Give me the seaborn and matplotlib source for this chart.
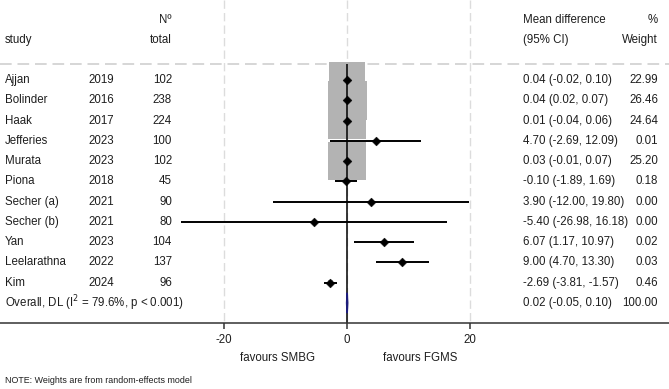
import numpy as np
import pandas as pd
import matplotlib
matplotlib.use("Agg")
import matplotlib.pyplot as plt
import seaborn as sns

# study data
studies = ["Ajjan", "Bolinder", "Haak", "Jefferies", "Murata", "Piona",
           "Secher (a)", "Secher (b)", "Yan", "Leelarathna", "Kim"]
years = [2019, 2016, 2017, 2023, 2023, 2018, 2021, 2021, 2023, 2022, 2024]
totals = [102, 238, 224, 100, 102, 45, 90, 80, 104, 137, 96]
md = [0.04, 0.04, 0.01, 4.70, 0.03, -0.10, 3.90, -5.40, 6.07, 9.00, -2.69]
ci_lo = [-0.02, 0.02, -0.04, -2.69, -0.01, -1.89, -12.00, -26.98, 1.17, 4.70, -3.81]
ci_hi = [0.10, 0.07, 0.06, 12.09, 0.07, 1.69, 19.80, 16.18, 10.97, 13.30, -1.57]
weights = [22.99, 26.46, 24.64, 0.01, 25.20, 0.18, 0.00, 0.00, 0.02, 0.03, 0.46]

overall_label = "Overall, DL (I$^2$ = 79.6%, p < 0.001)"
overall_md, overall_lo, overall_hi, overall_w = 0.02, -0.05, 0.10, 100.00
xticks = [-20, 0, 20]

df = pd.DataFrame({"study": studies, "year": years, "total": totals,
                   "md": md, "lo": ci_lo, "hi": ci_hi, "weight": weights})
df["row"] = np.arange(len(df))
overall_row = len(df)

sns.set_style("white")
plt.rcParams["font.family"] = ["Liberation Sans", "DejaVu Sans"]
txt = "#1e1e1e"
fs = 8.3

W, H = 669, 389
fig = plt.figure(figsize=(W / 100, H / 100), dpi=100)
ax = fig.add_axes([0, 0, 1, 1])
ax.set_axis_off()

# pixel helpers for layout (0 at x=347px, 6.15 px per unit, rows 20.27 px apart)
x_per = 6.15
ax.set_xlim(-347 / x_per, (W - 347) / x_per)
row_px, row0 = 20.27, 80
ax.set_ylim((H - row0) / row_px, -row0 / row_px)


def ry(p):
    return (p - row0) / row_px


def fx(p):
    return p / W


tr = ax.get_yaxis_transform()  # x in axes fraction, y in data

# grid lines
ax.vlines(xticks, ry(0), ry(323), colors="#dcdcdc", linestyles=(0, (6, 3)), lw=1, zorder=0)
ax.plot([fx(0), fx(W)], [ry(64), ry(64)], transform=tr, color="#cfcfcf",
        ls=(0, (7, 3.5)), lw=1.2, zorder=0)

# weight squares (area proportional to weight)
sns.scatterplot(data=df, x="md", y="row", size="weight", sizes=(0, 770),
                size_norm=(0, 26.46), marker="s", color="#b3b3b3",
                edgecolor="none", legend=False, ax=ax, zorder=1)

# zero line
ax.vlines(0, ry(64), ry(323), colors="black", lw=1.1, zorder=2)

# confidence intervals and point estimates
ax.hlines(df["row"], df["lo"], df["hi"], colors="black", lw=1.4, zorder=3)
sns.scatterplot(data=df, x="md", y="row", marker="D", color="black", s=20,
                edgecolor="black", legend=False, ax=ax, zorder=4)

# overall diamond
ax.fill([overall_lo, overall_md, overall_hi, overall_md],
        [overall_row, overall_row - 0.5, overall_row, overall_row + 0.5],
        color="#1c1c7a", ec="#1c1c7a", lw=1.2, zorder=4)

# x axis
ya = ry(323)
ax.plot([fx(0), fx(W)], [ya, ya], transform=tr, color="#333333", lw=1.1, zorder=5)
ax.vlines(xticks, ya, ry(329), colors="#333333", lw=1.1)
for t in xticks:
    ax.text(t, ry(340), f"{t}", ha="center", va="center", fontsize=fs, color=txt)
ax.text(fx(277), ry(358), "favours SMBG", transform=tr, ha="center", va="center", fontsize=fs, color=txt)
ax.text(fx(420), ry(358), "favours FGMS", transform=tr, ha="center", va="center", fontsize=fs, color=txt)
ax.text(fx(5), ry(381), "NOTE: Weights are from random-effects model", transform=tr,
        ha="left", va="center", fontsize=6.4, color=txt)

# headers
ax.text(fx(172), ry(20), "Nº", transform=tr, ha="right", va="center", fontsize=fs, color=txt)
ax.text(fx(5), ry(40), "study", transform=tr, ha="left", va="center", fontsize=fs, color=txt)
ax.text(fx(172), ry(40), "total", transform=tr, ha="right", va="center", fontsize=fs, color=txt)
ax.text(fx(523), ry(20), "Mean difference", transform=tr, ha="left", va="center", fontsize=fs, color=txt)
ax.text(fx(523), ry(40), "(95% CI)", transform=tr, ha="left", va="center", fontsize=fs, color=txt)
ax.text(fx(658), ry(20), "%", transform=tr, ha="right", va="center", fontsize=fs, color=txt)
ax.text(fx(658), ry(40), "Weight", transform=tr, ha="right", va="center", fontsize=fs, color=txt)

# table columns
for _, r in df.iterrows():
    y = r["row"]
    ax.text(fx(5), y, r["study"], transform=tr, ha="left", va="center", fontsize=fs, color=txt)
    ax.text(fx(88), y, f"{r['year']}", transform=tr, ha="left", va="center", fontsize=fs, color=txt)
    ax.text(fx(172), y, f"{r['total']}", transform=tr, ha="right", va="center", fontsize=fs, color=txt)
    ax.text(fx(523), y, f"{r['md']:.2f} ({r['lo']:.2f}, {r['hi']:.2f})", transform=tr,
            ha="left", va="center", fontsize=fs, color=txt)
    ax.text(fx(658), y, f"{r['weight']:.2f}", transform=tr, ha="right", va="center", fontsize=fs, color=txt)

ax.text(fx(5), overall_row, overall_label, transform=tr, ha="left", va="center", fontsize=fs, color=txt)
ax.text(fx(523), overall_row, f"{overall_md:.2f} ({overall_lo:.2f}, {overall_hi:.2f})", transform=tr,
        ha="left", va="center", fontsize=fs, color=txt)
ax.text(fx(658), overall_row, f"{overall_w:.2f}", transform=tr, ha="right", va="center", fontsize=fs, color=txt)

fig.savefig("out.png", dpi=100, facecolor="white")
